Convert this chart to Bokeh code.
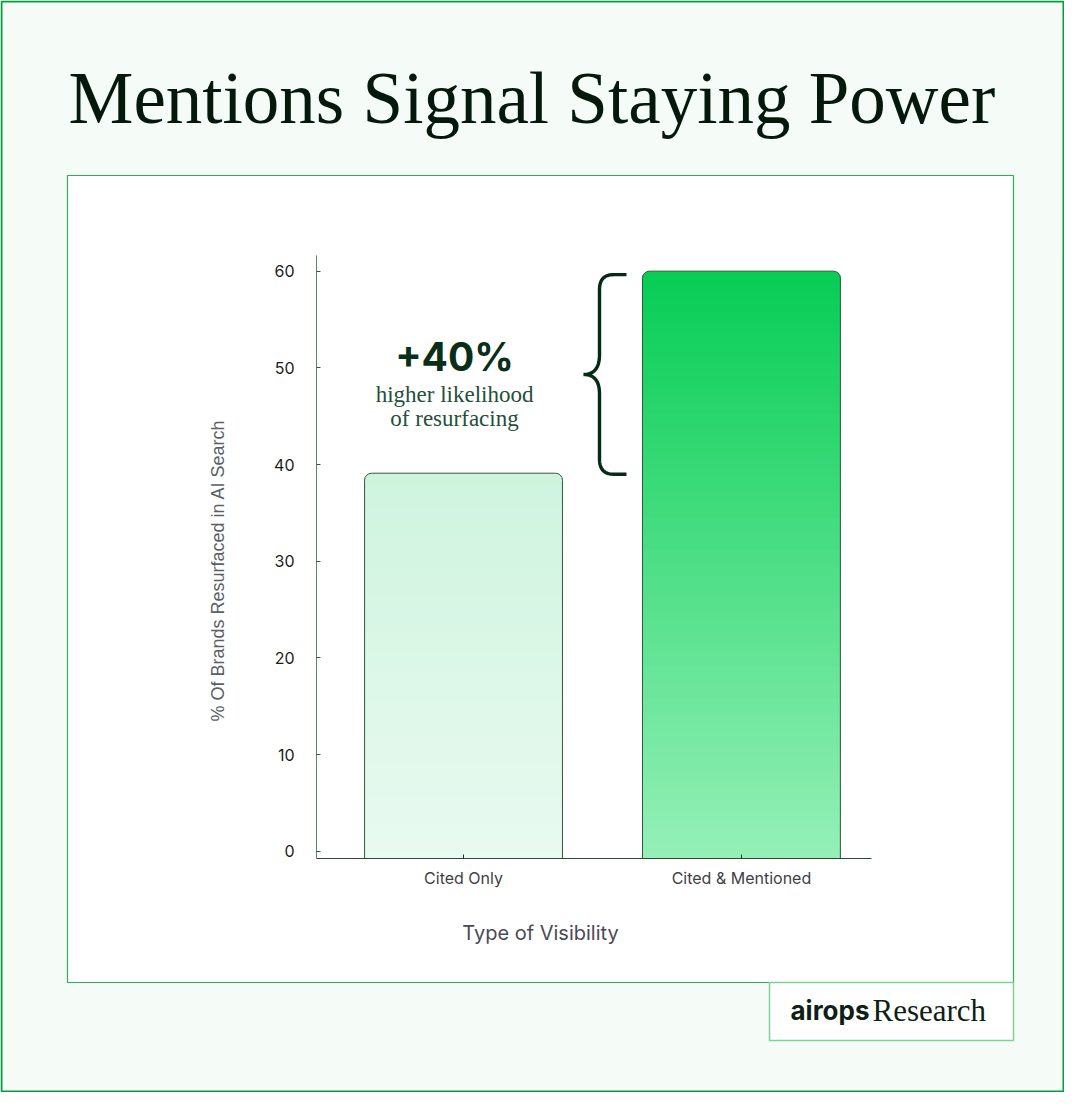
import math
import numpy as np
from bokeh.plotting import figure
from bokeh.models import Range1d, FixedTicker, LinearAxis
from bokeh.core.properties import value
from bokeh.embed import file_html
from bokeh.resources import INLINE

# ---------------- data ----------------
categories = ["Cited Only", "Cited & Mentioned"]
values = [39.1, 60.0]
y_ticks = [0, 10, 20, 30, 40, 50, 60]
title_text = "Mentions Signal Staying Power"
x_title = "Type of Visibility"
y_title = "% Of Brands Resurfaced in AI Search"
callout_big = "+40%"
callout_lines = ["higher likelihood", "of resurfacing"]
brand_a = "airops"
brand_b = "Research"

# ---------------- layout (page pixels) ----------------
W, H = 1064, 1092
FL, FR, FT, FB = 316, 871, 255, 858          # chart plotting area on the page
x_start, x_end = -0.029, 1.968
y_start, y_end = -0.755, 61.62
ppx = (FR - FL) / (x_end - x_start)
ppy = (FB - FT) / (y_end - y_start)

xs = [i + 0.5 for i in range(len(categories))]
bar_w = 0.712

p = figure(
    width=W, height=H, min_border=0,
    x_range=Range1d(0, W), y_range=Range1d(H, 0),
    x_axis_type=None, y_axis_type=None,
    output_backend="svg", toolbar_location=None,
    background_fill_color="#f5fcf7", border_fill_color="#f5fcf7",
    outline_line_color=None,
)
p.xgrid.visible = False
p.ygrid.visible = False
p.extra_x_ranges = {"cat": Range1d(x_start - FL / ppx, x_end + (W - FR) / ppx)}
p.extra_y_ranges = {"val": Range1d(y_start - (H - FB) / ppy, y_end + FT / ppy)}
D = dict(x_range_name="cat", y_range_name="val")

# ---------------- page decorations (page coordinates) ----------------
p.quad(left=[67], right=[1013], top=[175], bottom=[982],
       fill_color="white", line_color="#2fae58", line_width=1.2)
p.quad(left=[769], right=[1013], top=[982], bottom=[1040],
       fill_color="white", line_color="#7fd19a", line_width=1.5)

p.text(x=[68], y=[98], text=[title_text], text_font=value("Liberation Serif"),
       text_font_size="73px", text_color="#04190c", text_align="left", text_baseline="middle")
p.text(x=[790], y=[1010], text=[brand_a], text_font=value("Inter"), text_font_style="bold",
       text_font_size="26px", text_color="#0e1f14", text_align="left", text_baseline="middle")
p.text(x=[872], y=[1010], text=[brand_b], text_font=value("Liberation Serif"),
       text_font_size="31px", text_color="#0e1f14", text_align="left", text_baseline="middle")

p.text(x=[540], y=[932], text=[x_title], text_font=value("Inter"), text_font_size="20px",
       text_color="#4a4a55", text_align="center", text_baseline="middle")
p.text(x=[217], y=[570], text=[y_title], angle=math.pi / 2, text_font=value("Liberation Sans"),
       text_font_size="18px", text_color="#5a5f66", text_align="center", text_baseline="middle")

# ---------------- bars with vertical gradient ----------------
top_cols = [(0xCE, 0xF4, 0xDE), (0x06, 0xCD, 0x54)]
bot_cols = [(0xE9, 0xFA, 0xF0), (0x95, 0xF0, 0xB8)]

def hexc(c):
    return "#%02x%02x%02x" % tuple(int(round(v)) for v in c)

p.vbar(x=xs, top=values, bottom=y_start, width=bar_w,
       fill_color=[hexc(c) for c in top_cols], line_color=None, border_radius=(7, 7, 0, 0), **D)

n = 90
for i, v in enumerate(values):
    lim = v - 8 / ppy
    edges = np.linspace(y_start, lim, n + 1)
    mids = (edges[:-1] + edges[1:]) / 2
    t = (mids - y_start) / (v - y_start)
    cols = [hexc([bot_cols[i][k] + (top_cols[i][k] - bot_cols[i][k]) * tt for k in range(3)]) for tt in t]
    ov = (lim - y_start) / n * 0.6
    p.quad(left=xs[i] - bar_w / 2, right=xs[i] + bar_w / 2, bottom=edges[:-1], top=edges[1:] + ov,
           fill_color=cols, line_color=None, **D)

p.vbar(x=xs, top=values, bottom=y_start, width=bar_w, fill_alpha=0,
       line_color="#2f5a3e", line_width=1, border_radius=(7, 7, 0, 0), **D)

# ---------------- brace between bar tops ----------------
def qbez(p0, c, p1, m=16):
    tt = np.linspace(0, 1, m)
    xq = (1 - tt) ** 2 * p0[0] + 2 * (1 - tt) * tt * c[0] + tt ** 2 * p1[0]
    yq = (1 - tt) ** 2 * p0[1] + 2 * (1 - tt) * tt * c[1] + tt ** 2 * p1[1]
    return list(xq), list(yq)

yt = values[1] - 3.5 / ppy
yb = values[0] - 1.0 / ppy
ym = (yt + yb) / 2
xa = xs[1] - bar_w / 2 - 16 / ppx
xk = xa - 13 / ppx
xst = xa - 27 / ppx
xtip = xa - 43 / ppx
r = 15 / ppy
bx, by = [xa], [yt]
for seg in [qbez((xk, yt), (xst, yt), (xst, yt - r)),
            qbez((xst, ym + 1.3 * r), (xst, ym), (xtip, ym)),
            qbez((xtip, ym), (xst, ym), (xst, ym - 1.3 * r)),
            qbez((xst, yb + r), (xst, yb), (xk, yb))]:
    bx += seg[0]
    by += seg[1]
bx.append(xa)
by.append(yb)
p.line(bx, by, line_color="#062b14", line_width=3.4, **D)

# ---------------- callout text ----------------
cxd = 0.5 + (454 - 463) / ppx
p.text(x=[cxd], y=[y_start + (FB - 356) / ppy], text=[callout_big], text_font=value("Inter"),
       text_font_style="bold", text_font_size="39px", text_color="#0b2e18",
       text_align="center", text_baseline="middle", **D)
p.text(x=[cxd] * len(callout_lines),
       y=[y_start + (FB - (394 + 24 * k)) / ppy for k in range(len(callout_lines))],
       text=callout_lines, text_font=value("Liberation Serif"), text_font_size="23px",
       text_color="#24503a", text_align="center", text_baseline="middle", **D)

# outer page border
p.quad(left=[1], right=[W - 1], top=[1], bottom=[H - 1], fill_alpha=0,
       line_color="#0b9b3c", line_width=2)

# ---------------- axes (fixed inside the page) ----------------
yax = LinearAxis(fixed_location=x_start, bounds=(y_start, y_end), ticker=FixedTicker(ticks=y_ticks), **D)
yax.major_tick_in = 4
yax.major_tick_out = 0
yax.minor_tick_line_color = None
yax.axis_line_color = "#5f8069"
yax.major_tick_line_color = "#3a5a45"
yax.major_label_standoff = 22
yax.major_label_text_font = "Inter"
yax.major_label_text_font_size = "16px"
yax.major_label_text_color = "#1c1c1c"
p.add_layout(yax, "left")

xax = LinearAxis(fixed_location=y_start, bounds=(x_start, x_end), ticker=FixedTicker(ticks=xs), **D)
xax.major_label_overrides = {x: c for x, c in zip(xs, categories)}
xax.major_tick_in = 4
xax.major_tick_out = 0
xax.minor_tick_line_color = None
xax.axis_line_color = "#2c4a36"
xax.major_tick_line_color = "#1e3326"
xax.major_label_standoff = 9
xax.major_label_text_font = "Inter"
xax.major_label_text_font_size = "16px"
xax.major_label_text_color = "#3f3f46"
p.add_layout(xax, "below")

open("out.html", "w").write(file_html(p, INLINE))
